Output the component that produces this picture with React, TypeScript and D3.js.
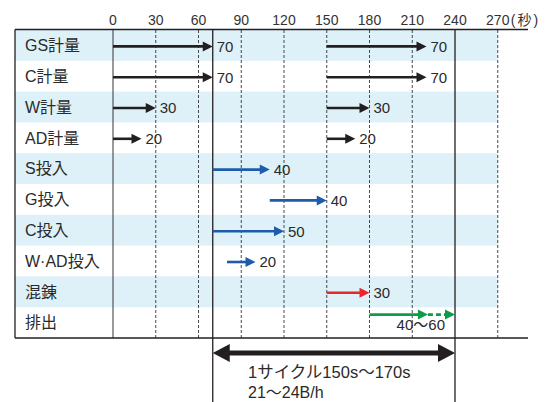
import React from "react";
import * as d3 from "d3";

const rows = ["GS計量", "C計量", "W計量", "AD計量", "S投入", "G投入", "C投入", "W·AD投入", "混錬", "排出"];
const ticks = [0, 30, 60, 90, 120, 150, 180, 210, 240, 270];
const solidLines = [70, 240];
const dashedLines = [30, 60, 90, 120, 150, 180, 210, 270];

// arrow segments
const segRow = ["GS計量", "GS計量", "C計量", "C計量", "W計量", "W計量", "AD計量", "AD計量", "S投入", "G投入", "C投入", "W·AD投入", "混錬", "排出", "排出"];
const segStart = [0, 150, 0, 150, 0, 150, 0, 150, 70, 110, 70, 80, 150, 180, 221];
const segEnd = [70, 220, 70, 220, 30, 180, 20, 170, 110, 150, 120, 100, 180, 221, 240];
const segLabel = ["70", "70", "70", "70", "30", "30", "20", "20", "40", "40", "50", "20", "30", "", ""];
const segKind = ["k", "k", "k", "k", "k", "k", "k", "k", "b", "b", "b", "b", "r", "g", "gd"];

const cycleStart = 70;
const cycleEnd = 240;
const cycleText1 = "1サイクル150s〜170s";
const cycleText2 = "21〜24B/h";
const dischargeLabel = "40〜60";
const dischargeLabelAt = 216;

const colors: Record<string, string> = { k: "#231f20", b: "#1c5ca8", r: "#e8262c", g: "#0c9c4a", gd: "#0c9c4a" };

const FONT = "'Liberation Sans', 'Noto Sans CJK JP', sans-serif";
const TXT = "#2a2a2a";

export default function App() {
  const x = d3.scaleLinear().domain([0, 240]).range([113, 455]);
  const y = d3.scaleBand<string>().domain(rows).range([30, 338]);
  const left = 15;
  const right = 528;
  const bh = y.bandwidth();

  const arrow = (i: number) => {
    const c = colors[segKind[i]];
    const row = segRow[i];
    const yy = y(row)! + bh / 2 + (row === "排出" ? -8 : 1);
    const x0 = x(segStart[i]);
    const x1 = x(segEnd[i]);
    const hl = 10, hw = 5;
    const dashed = segKind[i] === "gd";
    return (
      <g key={i}>
        <line x1={x0} x2={x1 - hl + 1} y1={yy} y2={yy} stroke={c} strokeWidth={2.6}
          strokeDasharray={dashed ? "5,3" : undefined} />
        <path d={`M${x1},${yy}L${x1 - hl},${yy - hw}L${x1 - hl},${yy + hw}Z`} fill={c} />
        {segLabel[i] && (
          <text x={x1 + 4} y={yy} dy="0.36em" fontSize={15} fill={TXT}>{segLabel[i]}</text>
        )}
      </g>
    );
  };

  const cy = 353;
  const cx0 = x(cycleStart), cx1 = x(cycleEnd);
  const chl = 17, chw = 9;

  return (
    <svg width={558} height={402} style={{ position: "absolute", left: 0, top: 0, fontFamily: FONT }}>
      <rect width={558} height={402} fill="#fff" />
      {rows.map((r, i) => i % 2 === 0 ? (
        <rect key={r} x={left} y={y(r)!} width={x(270) - left} height={bh} fill="#def1f9" />
      ) : null)}
      {dashedLines.map(v => (
        <line key={v} x1={x(v)} x2={x(v)} y1={30} y2={338} stroke="#333" strokeWidth={0.9} strokeDasharray="3,2" />
      ))}
      <line x1={x(0)} x2={x(0)} y1={30} y2={338} stroke="#555" strokeWidth={1.2} />
      {solidLines.map(v => (
        <line key={v} x1={x(v)} x2={x(v)} y1={30} y2={402} stroke="#231f20" strokeWidth={1.3} />
      ))}
      <line x1={left} x2={right} y1={29.5} y2={29.5} stroke="#231f20" strokeWidth={1.3} />
      <line x1={left} x2={right} y1={338} y2={338} stroke="#231f20" strokeWidth={1.3} />
      <line x1={left} x2={left} y1={29.5} y2={338} stroke="#231f20" strokeWidth={1.3} />
      {ticks.map(t => (
        <text key={t} x={x(t)} y={20} dy="0.36em" textAnchor="middle" fontSize={14} fill="#333">{t}</text>
      ))}
      <text x={x(270) + 13} y={20} dy="0.36em" fontSize={14} letterSpacing={2} fill="#333">(秒)</text>
      {rows.map(r => (
        <text key={r} x={25} y={y(r)! + bh / 2} dy="0.36em" fontSize={16} fill={TXT}>{r}</text>
      ))}
      {segRow.map((_, i) => arrow(i))}
      <text x={x(dischargeLabelAt)} y={325} dy="0.36em" textAnchor="middle" fontSize={15} fill={TXT}>{dischargeLabel}</text>
      <line x1={cx0 + chl - 1} x2={cx1 - chl + 1} y1={cy} y2={cy} stroke="#231f20" strokeWidth={5} />
      <path d={`M${cx0},${cy}L${cx0 + chl},${cy - chw}L${cx0 + chl},${cy + chw}Z`} fill="#231f20" />
      <path d={`M${cx1},${cy}L${cx1 - chl},${cy - chw}L${cx1 - chl},${cy + chw}Z`} fill="#231f20" />
      <text x={248} y={378} fontSize={16.5} fill={TXT}>{cycleText1}</text>
      <text x={248} y={398} fontSize={16} fill={TXT}>{cycleText2}</text>
    </svg>
  );
}
